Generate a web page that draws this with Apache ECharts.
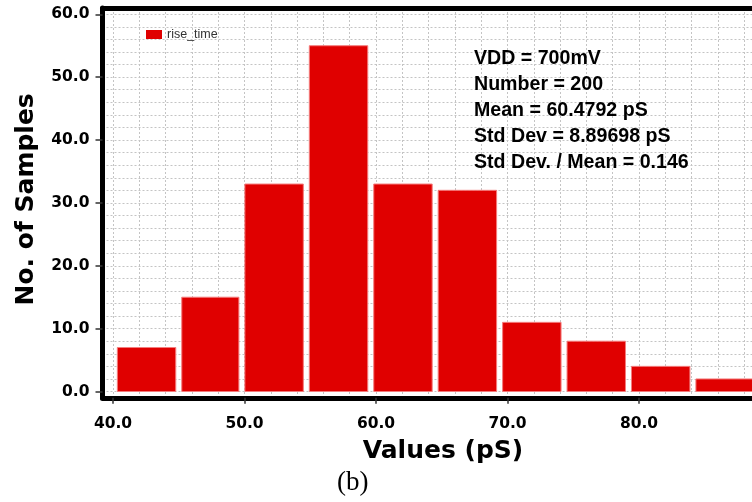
<!DOCTYPE html>
<html>
<head>
<meta charset="utf-8">
<script src="https://cdn.jsdelivr.net/npm/echarts@6/dist/echarts.min.js"></script>
<style>
html,body{margin:0;padding:0;background:#fff;overflow:hidden;}
#chart{width:752px;height:502px;}
</style>
</head>
<body>
<div id="chart"></div>
<script>
// ---- data ----
const seriesName = 'rise_time';
const binLow  = [40.1, 45.0, 49.8, 54.7, 59.6, 64.5, 69.4, 74.3, 79.2, 84.1];
const binHigh = [45.0, 49.8, 54.7, 59.6, 64.5, 69.4, 74.3, 79.2, 84.1, 89.0];
const counts  = [7, 15, 33, 55, 33, 32, 11, 8, 4, 2];
const xTickValues = [40, 50, 60, 70, 80];
const yTickValues = [0, 10, 20, 30, 40, 50, 60];
const xGridValues = [40, 42, 44, 46, 48, 50, 52, 54, 56, 58, 60, 62, 64, 66, 68, 70, 72, 74, 76, 78, 80, 82, 84, 86, 88];
const yGridValues = [0, 2, 4, 6, 8, 10, 12, 14, 16, 18, 20, 22, 24, 26, 28, 30, 32, 34, 36, 38, 40, 42, 44, 46, 48, 50, 52, 54, 56, 58, 60];
const statLines = [
  'VDD = 700mV',
  'Number = 200',
  'Mean = 60.4792 pS',
  'Std Dev = 8.89698 pS',
  'Std Dev. / Mean = 0.146'
];
const xTitle = 'Values (pS)';
const yTitle = 'No. of Samples';
const caption = '(b)';

const histData = binLow.map((lo, i) => [lo, binHigh[i], counts[i]]);

const tickFont = { fontFamily: 'DejaVu Sans', fontWeight: 'bold', fontSize: 15.5, color: '#000' };
const gridLine = { show: true, lineStyle: { color: '#c4c4c4', type: [2, 2], width: 1 } };

const chart = echarts.init(document.getElementById('chart'), null, { renderer: 'canvas' });
chart.setOption({
  animation: false,
  backgroundColor: '#fff',
  grid: { left: 102.5, width: 668, top: 8, height: 389.8, containLabel: false, outerBoundsMode: 'none' },
  legend: {
    left: 141, top: 23,
    itemWidth: 16, itemHeight: 9, itemGap: 10,
    icon: 'rect',
    data: [seriesName],
    textStyle: { fontFamily: 'Liberation Sans', fontSize: 12.5, color: '#333' }
  },
  xAxis: [
    {
      type: 'value', min: 39.2, max: 90, position: 'bottom',
      axisLine: { show: true, onZero: false, lineStyle: { color: '#000', width: 5 } },
      axisTick: { show: true, customValues: xTickValues, length: 6, lineStyle: { color: '#333', width: 1.5 } },
      axisLabel: Object.assign({ customValues: xTickValues, margin: 18, formatter: v => v.toFixed(1) }, tickFont),
      splitLine: { show: false },
      name: xTitle, nameLocation: 'middle', nameGap: 41,
      nameTextStyle: { fontFamily: 'DejaVu Sans', fontWeight: 'bold', fontSize: 25, color: '#000', padding: [0, 0, 0, 13] }
    },
    {
      type: 'value', min: 39.2, max: 90, position: 'top',
      axisLine: { show: true, onZero: false, lineStyle: { color: '#000', width: 5 } },
      axisTick: { show: false, customValues: xGridValues },
      axisLabel: { show: false },
      splitLine: gridLine
    }
  ],
  yAxis: [
    {
      type: 'value', min: -1, max: 61, position: 'left',
      axisLine: { show: true, onZero: false, lineStyle: { color: '#000', width: 5 } },
      axisTick: { show: true, customValues: yTickValues, length: 7, lineStyle: { color: '#333', width: 1.5 } },
      axisLabel: Object.assign({ customValues: yTickValues, margin: 13, formatter: v => v.toFixed(1) }, tickFont),
      splitLine: { show: false },
      name: yTitle, nameLocation: 'middle', nameGap: 64, nameRotate: 90,
      nameTextStyle: { fontFamily: 'DejaVu Sans', fontWeight: 'bold', fontSize: 25, color: '#000', padding: [0, 0, 0, 7] }
    },
    {
      type: 'value', min: -1, max: 61, position: 'right',
      axisLine: { show: false, onZero: false },
      axisTick: { show: false, customValues: yGridValues },
      axisLabel: { show: false },
      splitLine: gridLine
    }
  ],
  series: [{
    name: seriesName,
    type: 'custom',
    xAxisIndex: 0, yAxisIndex: 0,
    itemStyle: { color: '#e00000' },
    encode: { x: [0, 1], y: 2 },
    data: histData,
    renderItem: function (params, api) {
      const lo = api.value(0), hi = api.value(1), v = api.value(2);
      const pTop = api.coord([lo, v]);
      const pBot = api.coord([hi, 0]);
      const gap = 3;
      return {
        type: 'rect',
        shape: { x: pTop[0] + gap, y: pTop[1], width: pBot[0] - pTop[0] - 2 * gap, height: pBot[1] - pTop[1] },
        style: { fill: '#e00000', stroke: '#f47c7c', lineWidth: 1 }
      };
    }
  }],
  graphic: [
    {
      type: 'text', left: 474, top: 46, z: 10,
      style: {
        text: statLines.join('\n'),
        font: 'bold 19.6px "Liberation Sans", Arial, sans-serif',
        lineHeight: 26, fill: '#000'
      }
    },
    {
      type: 'text', left: 337, top: 469, z: 10,
      style: {
        text: caption,
        font: '27px "Liberation Serif", "Times New Roman", serif',
        fill: '#000'
      }
    }
  ]
});
</script>
</body>
</html>
